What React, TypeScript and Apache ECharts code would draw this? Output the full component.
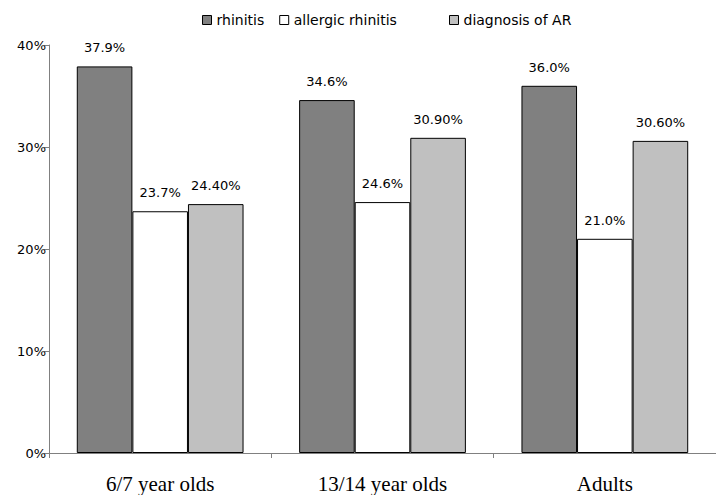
import React, { useEffect, useRef } from "react";
import * as echarts from "echarts";

const categories = ["6/7 year olds", "13/14 year olds", "Adults"];
const seriesNames = ["rhinitis", "allergic rhinitis", "diagnosis of AR"];
const rhinitis = [37.9, 34.6, 36.0];
const allergic = [23.7, 24.6, 21.0];
const diagnosis = [24.4, 30.9, 30.6];
const rhinitisLabels = ["37.9%", "34.6%", "36.0%"];
const allergicLabels = ["23.7%", "24.6%", "21.0%"];
const diagnosisLabels = ["24.40%", "30.90%", "30.60%"];
const yTicks = [0, 10, 20, 30, 40];

const colors = ["#808080", "#ffffff", "#c0c0c0"];

export default function App() {
  const ref = useRef<HTMLDivElement>(null);
  useEffect(() => {
    if (!ref.current) return;
    const chart = echarts.init(ref.current, undefined, { renderer: "svg" });
    const mk = (name: string, vals: number[], labels: string[], color: string) => ({
      name,
      type: "bar",
      data: vals,
      barGap: "0%",
      barCategoryGap: "25%",
      itemStyle: { color, borderColor: "#000", borderWidth: 1 },
      label: {
        show: true,
        position: "top",
        distance: 12,
        formatter: (p: any) => labels[p.dataIndex],
        fontFamily: "DejaVu Sans, sans-serif",
        fontSize: 13,
        color: "#000",
      },
    });
    const legendCommon = {
      top: 8,
      icon: "rect",
      itemWidth: 9,
      itemHeight: 9,
      itemGap: 15,
      itemStyle: { borderColor: "#000", borderWidth: 1 },
      textStyle: { fontFamily: "DejaVu Sans, sans-serif", fontSize: 14, color: "#000" },
    };
    chart.setOption({
      animation: false,
      backgroundColor: "#fff",
      legend: [
        { ...legendCommon, left: 197, data: [seriesNames[0], seriesNames[1]] },
        { ...legendCommon, left: 444, data: [seriesNames[2]] },
      ],
      grid: { left: 49, right: -5, top: 45, bottom: 42, containLabel: false },
      xAxis: {
        type: "category",
        data: categories,
        axisLine: { lineStyle: { color: "#808080", width: 1 } },
        axisTick: { show: true, length: 5, lineStyle: { color: "#808080" } },
        axisLabel: {
          fontFamily: "Liberation Serif, Times New Roman, serif",
          fontSize: 21,
          color: "#000",
          margin: 20,
        },
      },
      yAxis: {
        type: "value",
        min: 0,
        max: 40,
        interval: 10,
        axisLine: { show: true, lineStyle: { color: "#808080" } },
        axisTick: { show: true, length: 5, lineStyle: { color: "#808080" } },
        splitLine: { show: false },
        axisLabel: {
          formatter: (v: number) => (yTicks.includes(v) ? v + "%" : ""),
          fontFamily: "DejaVu Sans, sans-serif",
          fontSize: 13,
          color: "#000",
          margin: 3,
        },
      },
      series: [
        mk(seriesNames[0], rhinitis, rhinitisLabels, colors[0]),
        mk(seriesNames[1], allergic, allergicLabels, colors[1]),
        mk(seriesNames[2], diagnosis, diagnosisLabels, colors[2]),
      ],
    });
    return () => chart.dispose();
  }, []);
  return <div ref={ref} style={{ width: 716, height: 495, position: "absolute", left: 0, top: 0 }} />;
}
